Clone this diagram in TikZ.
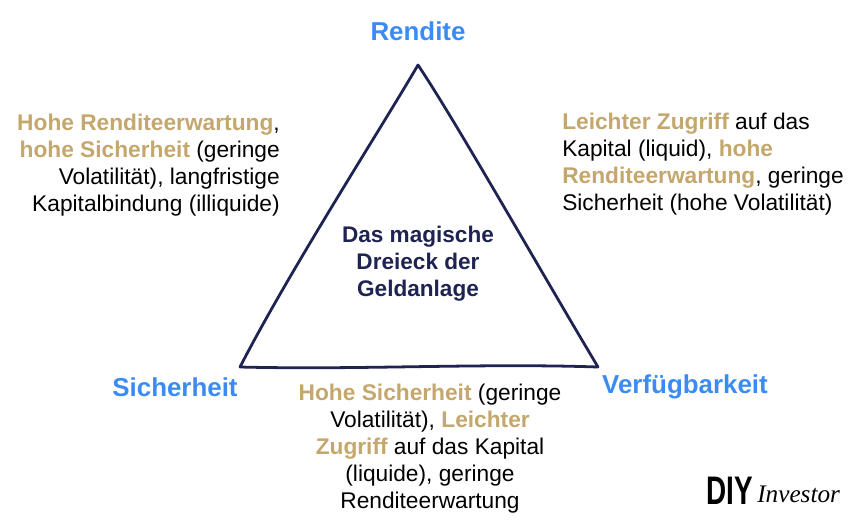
\documentclass[tikz,border=0pt]{standalone}
\usepackage{fontspec}
\setmainfont{Liberation Sans}
\newfontfamily\logofont{Liberation Serif}
\usetikzlibrary{positioning}
\definecolor{magicblue}{HTML}{3A8CF2}
\definecolor{magicgold}{HTML}{C4A76C}
\definecolor{magicnavy}{HTML}{1E2352}
\tikzset{corner/.style={font=\fontsize{19.5}{20}\selectfont\bfseries, text=magicblue},
  info/.style={font=\fontsize{17.1}{20.2}\selectfont, text=black, inner sep=0pt},
  center/.style={font=\fontsize{17}{20.2}\selectfont\bfseries, text=magicnavy, align=center}}
\newcommand{\gold}[1]{\textbf{\color{magicgold}#1}}
\begin{document}
\begin{tikzpicture}[x=0.02646cm, y=-0.02646cm]
        \useasboundingbox (0,0) rectangle (853,520);
        \coordinate (Top) at (418,65);
        \coordinate (Left) at (240,367);
        \coordinate (Right) at (598,367);
        \draw [magicnavy, line width=2.1pt, line join=round]
          (Top) .. controls (380,130) and (290,270) .. (Left)
          .. controls (360,370) and (480,363) .. (Right)
          .. controls (540,270) and (455,120) .. cycle;

        \node (Rendite) [corner] at (418,31) {Rendite};
        \node (Sicherheit) [corner] at (175,387) {Sicherheit};
        \node (Verfueg) [corner] at (685,387) {Verfügbarkeit};
        \node (Dreieck) [center] at (418,264) {Das magische\\Dreieck der\\Geldanlage};

        \node (LeftText) [info, align=right, anchor=north east] at (280,114)
          {\gold{Hohe Renditeerwartung},\\\gold{hohe Sicherheit} (geringe\\Volatilität), langfristige\\Kapitalbindung (illiquide)};
        \node (RightText) [info, align=left, anchor=north west] at (562,113)
          {\gold{Leichter Zugriff} auf das\\Kapital (liquid), \gold{hohe}\\\gold{Renditeerwartung}, geringe\\Sicherheit (hohe Volatilität)};
        \node (BottomText) [info, align=center, anchor=north] at (430,384)
          {\gold{Hohe Sicherheit} (geringe\\Volatilität), \gold{Leichter}\\\gold{Zugriff} auf das Kapital\\(liquide), geringe\\Renditeerwartung};

        \node (DIY) [font=\fontsize{30}{30}\selectfont\bfseries, xscale=0.7, inner sep=0pt, anchor=west] at (706,491) {DIY};
        \node (Investor) [font=\fontsize{19}{19}\selectfont\logofont\itshape, inner sep=0pt, anchor=west] at (757,494) {Investor};
\end{tikzpicture}
\end{document}
